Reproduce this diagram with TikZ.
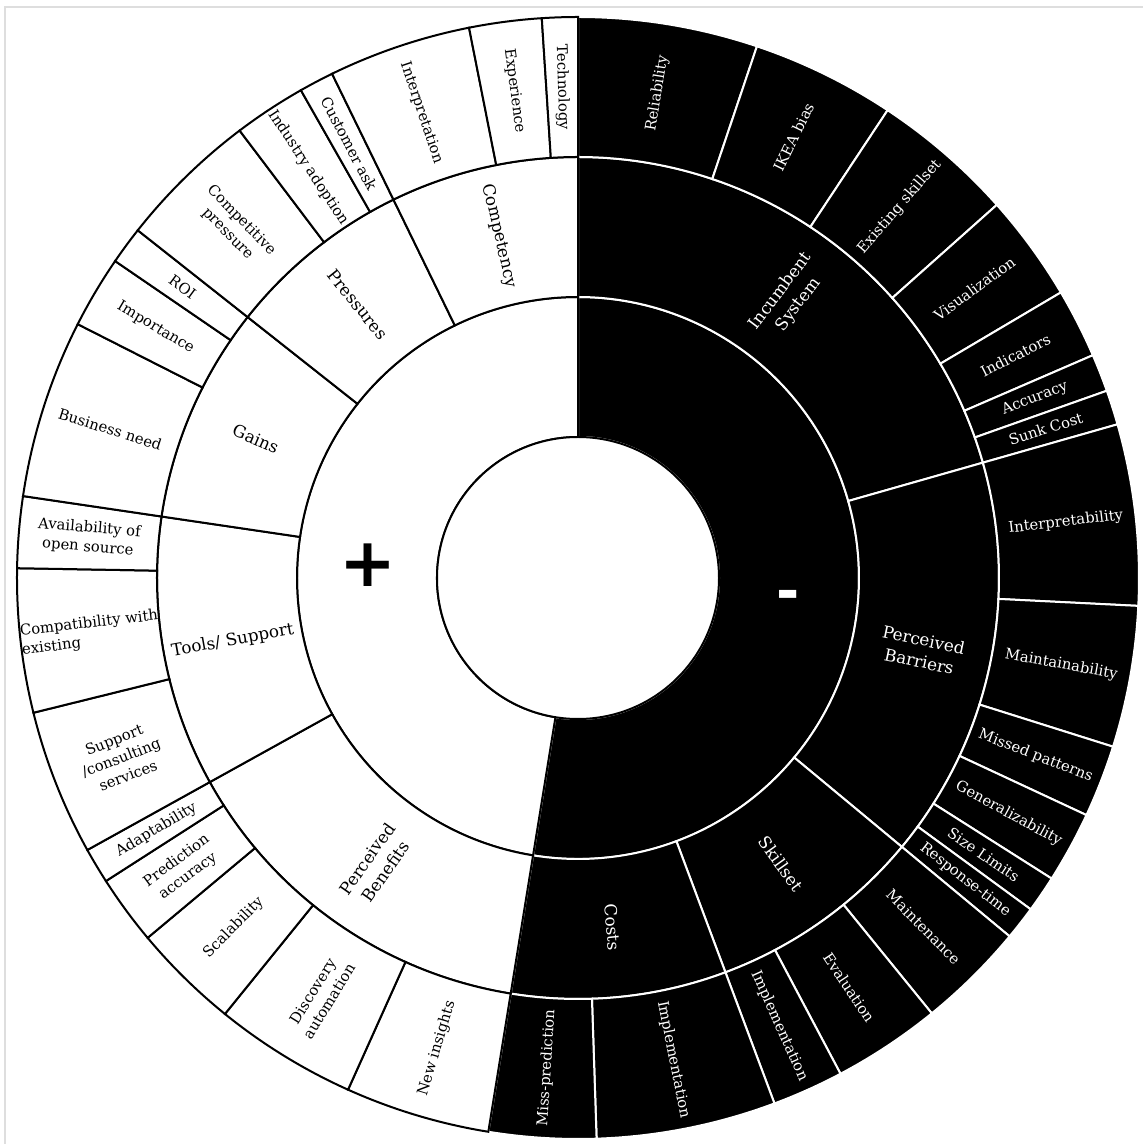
\documentclass[tikz,border=0pt]{standalone}
\usepackage{fontspec}
\setmainfont{DejaVu Serif}
\newfontfamily\signfont{DejaVu Sans}
\newcommand\sbseg[5]{\path[#5] ({90-(#1)}:#3) arc[start angle={90-(#1)}, end angle={90-(#2)}, radius=#3] -- ({90-(#2)}:#4) arc[start angle={90-(#2)}, end angle={90-(#1)}, radius=#4] -- cycle;}
\newcommand\sblab[5]{\node[#4, rotate={(#2<180)*(90-(#2))+(#2>=180)*(270-(#2))}] (#1) at ({90-(#2)}:#3) {#5};}
\begin{document}
\begin{tikzpicture}[x=0.5pt,y=0.5pt,
  negseg/.style={fill=black, draw=white, line width=1pt},
  posseg/.style={fill=white, draw=black, line width=1pt},
  lab/.style={font=\fontsize{7.4}{9.6}\selectfont, align=center, inner sep=0pt},
  labw/.style={lab, text=white},
  mlab/.style={font=\fontsize{8.4}{11}\selectfont, align=center, inner sep=0pt},
  mlabw/.style={mlab, text=white}]
\useasboundingbox (-578,-566) rectangle (565,578);
\fill[white] (-578,-566) rectangle (565,578);
\draw[black!13, line width=1pt] (-573,-566) -- (-573,571) -- (565,571);
% ---- negative side (black)
\sbseg{0}{189.2}{141}{281}{negseg}
\sbseg{0}{74.1}{281}{421}{negseg}
\sbseg{74.1}{129.7}{281}{421}{negseg}
\sbseg{129.7}{159.5}{281}{421}{negseg}
\sbseg{159.5}{189.2}{281}{421}{negseg}
\sbseg{0}{18.6}{421}{561}{negseg}
\sbseg{18.6}{33.5}{421}{561}{negseg}
\sbseg{33.5}{48.3}{421}{561}{negseg}
\sbseg{48.3}{59.4}{421}{561}{negseg}
\sbseg{59.4}{66.6}{421}{561}{negseg}
\sbseg{66.6}{70.5}{421}{561}{negseg}
\sbseg{70.5}{74.1}{421}{561}{negseg}
\sbseg{74.1}{92.85}{421}{561}{negseg}
\sbseg{92.85}{107.5}{421}{561}{negseg}
\sbseg{107.5}{115}{421}{561}{negseg}
\sbseg{115}{122.4}{421}{561}{negseg}
\sbseg{122.4}{126.2}{421}{561}{negseg}
\sbseg{126.2}{129.7}{421}{561}{negseg}
\sbseg{129.7}{140.9}{421}{561}{negseg}
\sbseg{140.9}{152.1}{421}{561}{negseg}
\sbseg{152.1}{159.5}{421}{561}{negseg}
\sbseg{159.5}{178.1}{421}{561}{negseg}
\sbseg{178.1}{189.2}{421}{561}{negseg}
% ---- positive side (white)
\sbseg{189.2}{360}{141}{281}{posseg}
\sbseg{189.2}{241}{281}{421}{posseg}
\sbseg{241}{278.4}{281}{421}{posseg}
\sbseg{278.4}{308.3}{281}{421}{posseg}
\sbseg{308.3}{334}{281}{421}{posseg}
\sbseg{334}{360}{281}{421}{posseg}
\sbseg{189.2}{204.2}{421}{561}{posseg}
\sbseg{204.2}{219}{421}{561}{posseg}
\sbseg{219}{230.1}{421}{561}{posseg}
\sbseg{230.1}{237.3}{421}{561}{posseg}
\sbseg{237.3}{241}{421}{561}{posseg}
\sbseg{241}{256.1}{421}{561}{posseg}
\sbseg{256.1}{271}{421}{561}{posseg}
\sbseg{271}{278.4}{421}{561}{posseg}
\sbseg{278.4}{296.9}{421}{561}{posseg}
\sbseg{296.9}{304.4}{421}{561}{posseg}
\sbseg{304.4}{308.3}{421}{561}{posseg}
\sbseg{308.3}{322.9}{421}{561}{posseg}
\sbseg{322.9}{330.4}{421}{561}{posseg}
\sbseg{330.4}{334}{421}{561}{posseg}
\sbseg{334}{348.8}{421}{561}{posseg}
\sbseg{348.8}{356.3}{421}{561}{posseg}
\sbseg{356.3}{360}{421}{561}{posseg}
% ---- centre
\draw[fill=white, line width=1pt] (0,0) circle[radius=141];
% ---- signs
\node[font=\signfont\bfseries\fontsize{34}{34}\selectfont, inner sep=0pt] (plus) at (-209.7,12.7) {+};
\node[font=\signfont\bfseries\fontsize{28}{28}\selectfont, text=white, inner sep=0pt] (minus) at (210.3,-22) {-};
% ---- level 1 labels
\sblab{incumbent}{37.05}{351}{mlabw}{Incumbent\\System}
\sblab{barriers}{101.9}{351}{mlabw}{Perceived\\Barriers}
\sblab{skillset}{144.6}{351}{mlabw}{Skillset}
\sblab{costs}{174.35}{351}{mlabw}{Costs}
\sblab{benefits}{215.1}{351}{mlab}{Perceived\\Benefits}
\sblab{tools}{259.7}{351}{mlab}{Tools/ Support}
\sblab{gains}{293.35}{351}{mlab}{Gains}
\sblab{pressures}{321.15}{351}{mlab}{Pressures}
\sblab{competency}{347}{351}{mlab}{Competency}
% ---- level 2 labels, positive
\sblab{interpretation}{341.4}{491}{lab}{Interpretation}
\sblab{experience}{352.55}{491}{lab}{Experience}
\sblab{technology}{358.15}{491}{lab}{Technology}
\sblab{customer}{332.2}{491}{lab}{Customer ask}
\sblab{industry}{326.65}{491}{lab}{Industry adoption}
\sblab{competitive}{315.6}{491}{lab}{Competitive\\pressure}
\sblab{roi}{306.35}{491}{lab}{ROI}
\sblab{importance}{300.65}{491}{lab}{Importance}
\sblab{business}{287.65}{491}{lab}{Business need}
\sblab{availability}{274.7}{491}{lab}{Availability of\\open source}
\sblab{compatibility}{263.55}{491}{lab, align=left}{Compatibility with\\existing}
\sblab{support}{248.55}{491}{lab}{Support\\/consulting\\services}
\sblab{adaptability}{239.15}{491}{lab}{Adaptability}
\sblab{prediction}{233.7}{491}{lab}{Prediction\\accuracy}
\sblab{scalability}{224.55}{491}{lab}{Scalability}
\sblab{discovery}{211.6}{491}{lab}{Discovery\\automation}
\sblab{insights}{196.7}{491}{lab}{New insights}
% ---- level 2 labels, negative
\sblab{reliability}{9.3}{491}{labw}{Reliability}
\sblab{ikea}{26.05}{491}{labw}{IKEA bias}
\sblab{existing}{40.9}{491}{labw}{Existing skillset}
\sblab{visualization}{53.85}{491}{labw}{Visualization}
\sblab{indicators}{63}{491}{labw}{Indicators}
\sblab{accuracy}{68.55}{491}{labw}{Accuracy}
\sblab{sunk}{72.3}{491}{labw}{Sunk Cost}
\sblab{interpretability}{83.475}{491}{labw}{Interpretability}
\sblab{maintainability}{100.175}{491}{labw}{Maintainability}
\sblab{missed}{111.25}{491}{labw}{Missed patterns}
\sblab{generalizability}{118.7}{491}{labw}{Generalizability}
\sblab{size}{124.3}{491}{labw}{Size Limits}
\sblab{response}{127.95}{491}{labw}{Response-time}
\sblab{maintenance}{135.3}{491}{labw}{Maintenance}
\sblab{evaluation}{146.5}{491}{labw}{Evaluation}
\sblab{implskill}{155.8}{491}{labw}{Implementation}
\sblab{implcost}{168.8}{491}{labw}{Implementation}
\sblab{missprediction}{183.65}{491}{labw}{Miss-prediction}
\end{tikzpicture}
\end{document}
